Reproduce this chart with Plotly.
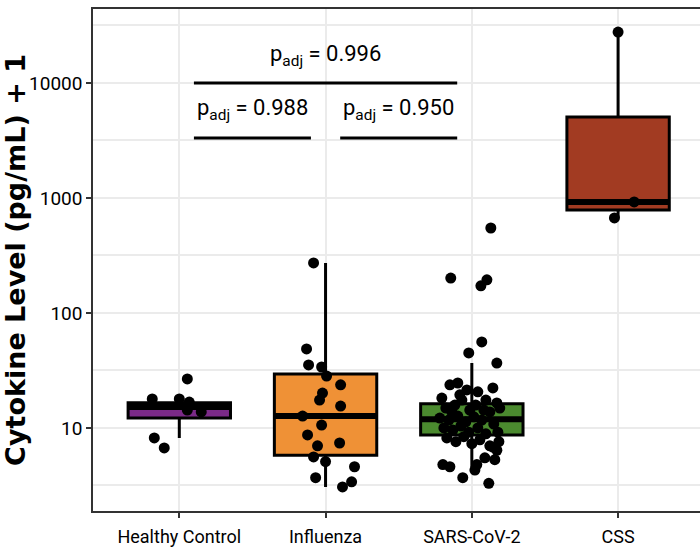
import plotly.graph_objects as go

# ---------------- data ----------------
categories = ["Healthy Control", "Influenza", "SARS-CoV-2", "CSS"]
cat_pos = [1, 2, 3, 4]
box_colors = ["#7B2A88", "#EF9136", "#4B8A2F", "#A23B22"]

# box statistics (log-scale Tukey boxes)
q1 = [12.2, 5.8, 8.7, 787]
median = [15.2, 12.7, 11.9, 923]
q3 = [16.6, 29.5, 16.2, 5060]
lowerfence = [8.2, 3.07, 4.5, 670]
upperfence = [16.6, 272, 36.7, 27700]

# jittered observations: horizontal jitter (category units) and value
hc_jitter = [0.055, -0.185, 0.0, 0.068, 0.055, 0.15, -0.171, -0.103]
hc_values = [26.7, 17.9, 17.9, 16.8, 14.3, 13.8, 8.2, 6.7]

flu_jitter = [-0.082, -0.13, -0.116, -0.027, 0.007, 0.103, -0.021, -0.041, 0.103, -0.157,
              -0.027, -0.123, 0.096, -0.055, -0.082, 0.0, 0.198, -0.068, 0.178, 0.116]
flu_values = [272, 48.7, 35.3, 33.9, 28.3, 23.7, 20.1, 17.5, 15.5, 12.7,
              10.6, 8.7, 7.4, 7.0, 5.6, 5.1, 4.6, 3.7, 3.4, 3.07]

sars_jitter = [0.130, -0.144, 0.103, 0.062, 0.068, -0.021, 0.171,
               -0.150, -0.096, -0.034, -0.205, 0.144, 0.041, 0.096, 0.171,
               -0.178, -0.116, -0.068, -0.014, 0.027, 0.123, 0.191,
               -0.219, -0.157, -0.096, -0.041, 0.014, 0.068, 0.150,
               -0.191, -0.130, -0.075, -0.021, 0.041, 0.096, 0.178,
               -0.171, -0.109, -0.055, 0.0, 0.055, 0.123, 0.185,
               -0.198, -0.150, -0.062, 0.116, 0.034, 0.089, 0.171, 0.157, 0.021, 0.144,
               -0.082, -0.137, 0.082]
sars_values = [548, 201, 194, 172, 56, 44.9, 36.7,
               23.7, 24.6, 21.4, 18.2, 22.3, 20.6, 17.5, 16.5,
               14.9, 15.8, 17.5, 14.3, 15.8, 13.8, 14.9,
               12.2, 11.7, 12.7, 11.3, 12.5, 11.7, 10.8,
               10.0, 9.6, 10.4, 9.2, 10.0, 8.9, 9.2,
               8.2, 7.6, 8.4, 7.3, 7.9, 7.0, 7.6,
               4.8, 4.6, 3.7, 3.3, 4.8, 5.5, 6.4, 5.3, 4.3, 6.8,
               19.4, 13.8, 14.3]

css_jitter = [0.0, 0.11, -0.025]
css_values = [27700, 923, 670]

jitters = [hc_jitter, flu_jitter, sars_jitter, css_jitter]
values = [hc_values, flu_values, sars_values, css_values]

# comparison brackets: (x start, x end, y level, label)
bracket_x0 = [1.1, 2.1, 1.1]
bracket_x1 = [1.9, 2.9, 2.9]
bracket_y = [3327, 3327, 10000]
bracket_labels = ["p<sub>adj</sub> = 0.988", "p<sub>adj</sub> = 0.950", "p<sub>adj</sub> = 0.996"]
label_x = [1.5, 2.5, 2.0]
label_logy = [3.77, 3.77, 4.24]

y_tickvals = [10, 100, 1000, 10000]
y_minor = [3.162, 31.62, 316.2, 3162, 31623]

BOX_W = 0.7
NARROW = "Liberation Sans Narrow, Arial Narrow, Roboto, sans-serif"

fig = go.Figure()

for i in range(4):
    fig.add_trace(go.Box(
        x=[cat_pos[i]], q1=[q1[i]], median=[median[i]], q3=[q3[i]],
        lowerfence=[lowerfence[i]], upperfence=[upperfence[i]],
        width=BOX_W, fillcolor=box_colors[i],
        line=dict(color="black", width=3), whiskerwidth=0,
        boxpoints=False, showlegend=False, hoverinfo="skip",
    ))

# thick median bars (ggplot fatten)
for i in range(4):
    fig.add_trace(go.Scatter(
        x=[cat_pos[i] - BOX_W / 2, cat_pos[i] + BOX_W / 2], y=[median[i], median[i]],
        mode="lines", line=dict(color="black", width=6), showlegend=False, hoverinfo="skip",
    ))

# jittered points
for i in range(4):
    fig.add_trace(go.Scatter(
        x=[cat_pos[i] + j for j in jitters[i]], y=values[i],
        mode="markers", marker=dict(color="black", size=11, line=dict(width=0)),
        showlegend=False,
    ))

# brackets
for k in range(3):
    fig.add_trace(go.Scatter(
        x=[bracket_x0[k], bracket_x1[k]], y=[bracket_y[k], bracket_y[k]],
        mode="lines", line=dict(color="black", width=3), showlegend=False, hoverinfo="skip",
    ))
    fig.add_annotation(
        x=label_x[k], y=label_logy[k], xref="x", yref="y", text=bracket_labels[k],
        showarrow=False, font=dict(family=NARROW, size=22, color="black"),
        xanchor="center", yanchor="middle",
    )

fig.update_layout(
    width=700, height=550,
    margin=dict(l=93, r=0, t=9, b=39),
    paper_bgcolor="white", plot_bgcolor="white",
    font=dict(family=NARROW, color="black"),
    xaxis=dict(
        range=[0.41, 4.56], tickvals=cat_pos, ticktext=categories,
        showgrid=True, gridcolor="#EBEBEB", gridwidth=2,
        showline=True, linecolor="#333333", linewidth=1.5, mirror=True,
        ticks="outside", ticklen=5, tickwidth=1.5, tickcolor="#333333",
        tickfont=dict(family=NARROW, size=18, color="black"),
        ticklabelstandoff=4,
        zeroline=False, automargin=False,
    ),
    yaxis=dict(
        type="log", range=[0.278, 4.643], tickvals=y_tickvals,
        ticktext=[str(v) for v in y_tickvals],
        showgrid=True, gridcolor="#EBEBEB", gridwidth=2,
        minor=dict(tickvals=y_minor, showgrid=True, gridcolor="#EBEBEB", gridwidth=1.5, ticklen=0),
        showline=True, linecolor="#333333", linewidth=1.5, mirror=False,
        ticks="outside", ticklen=5, tickwidth=1.5, tickcolor="#333333",
        tickfont=dict(family=NARROW, size=19, color="black"),
        zeroline=False, automargin=False,
        title=dict(text="Cytokine Level (pg/mL) + 1",
                   font=dict(family="DejaVu Sans", size=27, color="black", weight="bold"),
                   standoff=4),
    ),
)

fig.write_html("out.html", config={"displayModeBar": False},
               post_script="document.body.style.margin='0';")
